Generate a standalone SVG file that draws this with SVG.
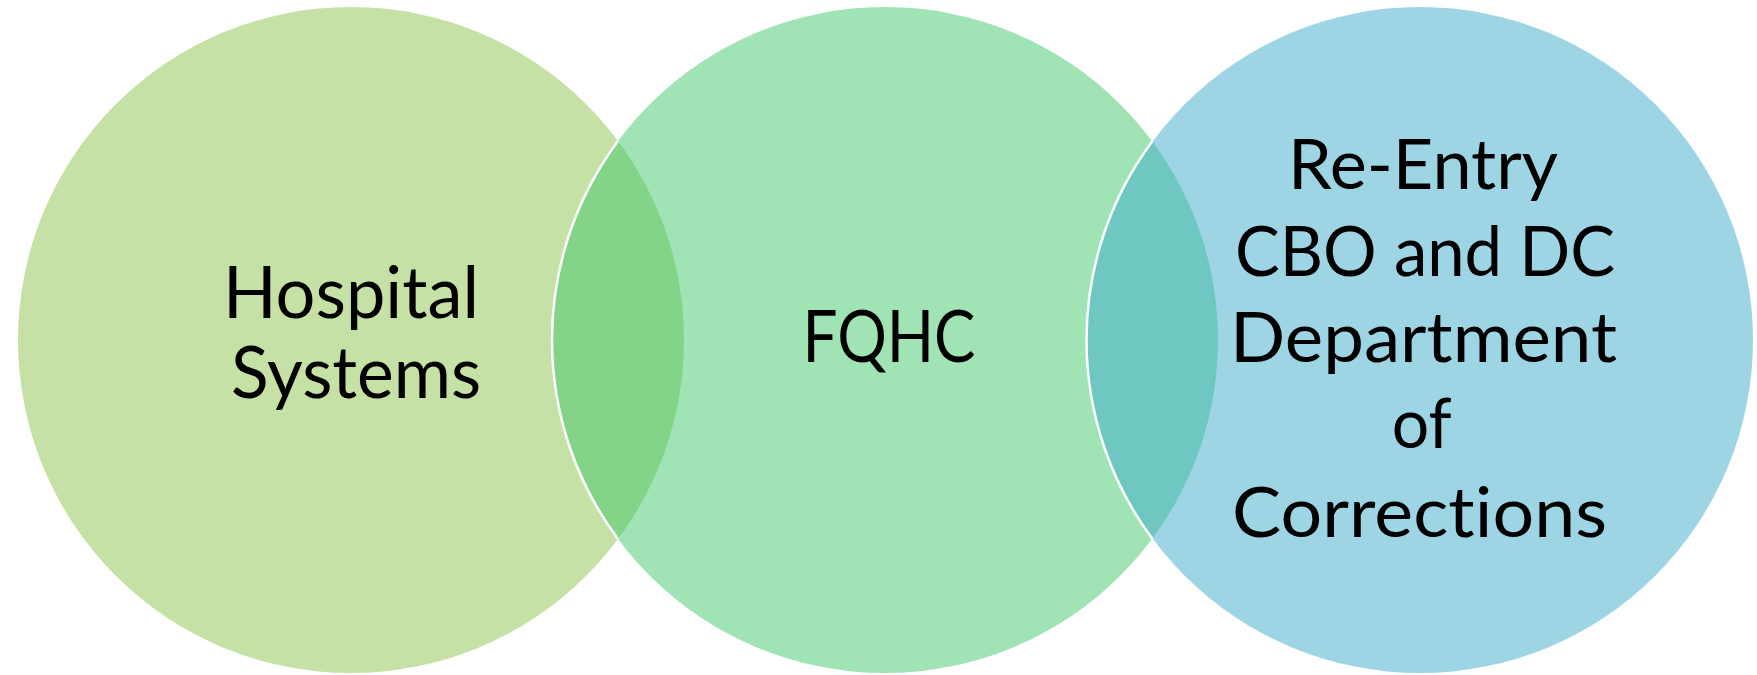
<svg xmlns="http://www.w3.org/2000/svg" width="1757" height="675" viewBox="0 0 1757 675">
<style>
.c{fill-opacity:0.5;stroke:none}
.edge{fill:none;stroke:#ffffff;stroke-width:2.5}
.t{font-family:Lato,"Open Sans","Liberation Sans",sans-serif;fill:#000000;text-anchor:middle;font-variant-ligatures:none;font-feature-settings:"liga" 0,"dlig" 0}
</style>
<rect width="1757" height="675" fill="#ffffff"/>
<g id="node-hospital">
<circle class="c" cx="351" cy="340" r="333" fill="#8BC34B"/>
<text class="t" font-size="72" x="351" y="318" textLength="256" lengthAdjust="spacingAndGlyphs">Hospital</text>
<text class="t" font-size="72" x="356" y="398" textLength="250" lengthAdjust="spacingAndGlyphs">Systems</text>
</g>
<g id="node-fqhc">
<circle class="c" cx="885" cy="340" r="333" fill="#41C76B"/>
<path class="edge" d="M618,141 A333,333 0 0 0 618,539"/>
<text class="t" font-size="71" x="889" y="362" textLength="173" lengthAdjust="spacingAndGlyphs">FQHC</text>
</g>
<g id="node-reentry">
<circle class="c" cx="1420" cy="340" r="333" fill="#3BABCB"/>
<path class="edge" d="M1152.5,141 A333,333 0 0 0 1152.5,539"/>
<text class="t" font-size="69" x="1423" y="189" textLength="270" lengthAdjust="spacingAndGlyphs">Re-Entry</text>
<text class="t" font-size="69" x="1425" y="276" textLength="380" lengthAdjust="spacingAndGlyphs">CBO and DC</text>
<text class="t" font-size="69" x="1423.5" y="362" textLength="387" lengthAdjust="spacingAndGlyphs">Department</text>
<text class="t" font-size="69" x="1421.7" y="448" textLength="60" lengthAdjust="spacingAndGlyphs">of</text>
<text class="t" font-size="69" x="1419.6" y="537" textLength="375" lengthAdjust="spacingAndGlyphs">Corrections</text>
</g>
<g id="connectors"></g>
</svg>
